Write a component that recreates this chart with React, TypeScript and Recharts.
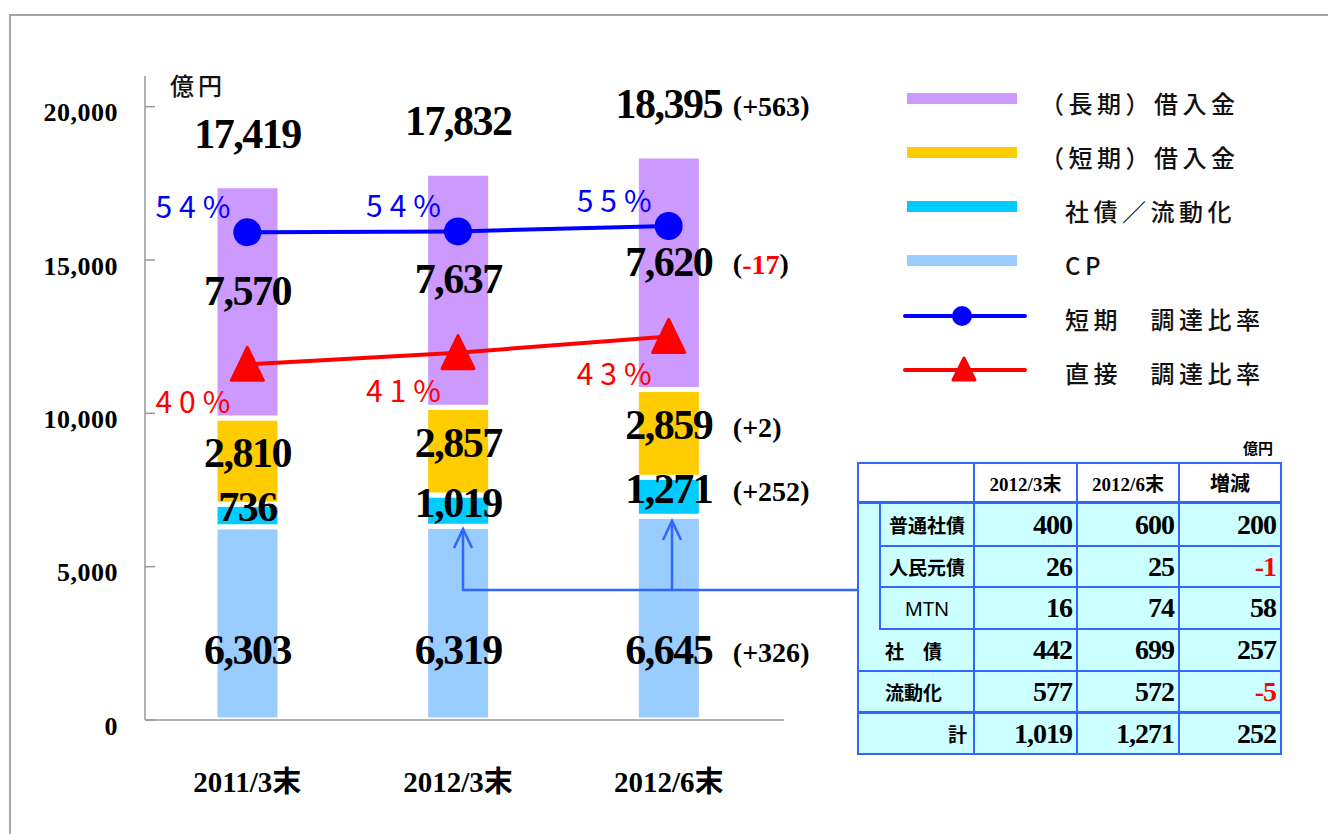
import React from 'react';
import { ComposedChart, Bar, Line, XAxis, YAxis, LabelList } from 'recharts';

const categories = ['2011/3末', '2012/3末', '2012/6末'];
const cpValues = [6303, 6319, 6645];
const bondValues = [736, 1019, 1271];
const shortLoanValues = [2810, 2857, 2859];
const longLoanValues = [7570, 7637, 7620];
const shortRatioValues = [54.3, 54.4, 55.0];
const directRatioValues = [39.6, 40.9, 42.7];
const yTicks = [0, 5000, 10000, 15000, 20000];

const tableHeads = ['2012/3末', '2012/6末', '増減'];
const tableLabels = ['普通社債', '人民元債', 'MTN', '社　債', '流動化', '計'];
const bondsMar2012 = [400, 26, 16, 442, 577, 1019];
const bondsJun2012 = [600, 25, 74, 699, 572, 1271];
const bondsDiff = [200, -1, 58, 257, -5, 252];

const data = categories.map((name, i) => ({
  name,
  cp: cpValues[i],
  bond: bondValues[i],
  shortLoan: shortLoanValues[i],
  longLoan: longLoanValues[i],
  total: cpValues[i] + bondValues[i] + shortLoanValues[i] + longLoanValues[i],
  shortRatio: shortRatioValues[i],
  directRatio: directRatioValues[i],
}));
const last = data.length - 1;
const diffOf = (key: string) => (data[last] as any)[key] - (data[last - 1] as any)[key];

const SERIF = '"Liberation Serif", "Times New Roman", "Noto Sans CJK JP", serif';
const GOTHIC = '"Noto Sans CJK JP", "Noto Sans", sans-serif';
const BLUE = '#0000ff';
const RED = '#ff0000';
const ARROW = '#3366ff';
const fmt = (v: number) => v.toLocaleString('en-US');

const legendItems = [
  { label: '（長期）借入金', color: '#cc99ff', kind: 'bar', dx: 0 },
  { label: '（短期）借入金', color: '#ffcc00', kind: 'bar', dx: 0 },
  { label: '社債／流動化', color: '#00ccff', kind: 'bar', dx: 25 },
  { label: 'CP', color: '#99ccff', kind: 'bar', dx: 25 },
  { label: '短期　調達比率', color: BLUE, kind: 'circle', dx: 25 },
  { label: '直接　調達比率', color: RED, kind: 'triangle', dx: 25 },
];

function box(props: any) {
  const vb = props.viewBox && props.viewBox.width !== undefined ? props.viewBox : props;
  const top = Math.min(vb.y, vb.y + vb.height);
  return { x: vb.x, y: top, width: vb.width, height: Math.abs(vb.height) };
}

function ChangeText({ x, y, v }: { x: number; y: number; v: number }) {
  return (
    <text x={x} y={y} dominantBaseline="central" fontFamily={SERIF} fontWeight="bold" fontSize={28} fill="#000">
      (<tspan fill={v < 0 ? RED : '#000'}>{v < 0 ? `-${Math.abs(v)}` : `+${v}`}</tspan>)
    </text>
  );
}

const bigText = { fontFamily: SERIF, fontWeight: 'bold', fontSize: 42, letterSpacing: -1.5, fill: '#000' } as const;

function segmentLabel(key: string, shift: number, fromBottom?: number) {
  return (props: any) => {
    const { x, y, width, height } = box(props);
    const cx = x + width / 2;
    const cy = fromBottom !== undefined ? y + height - fromBottom : y + height / 2 + shift;
    return (
      <g key={`${key}-${props.index}`}>
        <text x={cx} y={cy} textAnchor="middle" dominantBaseline="central" {...bigText}>
          {fmt(Number(props.value))}
        </text>
        {props.index === last && <ChangeText x={cx + 64} y={cy + 2} v={diffOf(key)} />}
      </g>
    );
  };
}

function totalLabel(props: any) {
  const { x, y, width } = box(props);
  const cx = x + width / 2;
  const cy = y - 52;
  return (
    <g key={`total-${props.index}`}>
      <text x={cx} y={cy} textAnchor="middle" dominantBaseline="central" {...bigText}>
        {fmt(Number(props.value))}
      </text>
      {props.index === last && <ChangeText x={cx + 64} y={cy + 2} v={diffOf('total')} />}
    </g>
  );
}

function ratioLabel(color: string, dy: number) {
  return (props: any) => {
    const vb = props.viewBox || props;
    const px = props.x ?? vb.x;
    const py = props.y ?? vb.y;
    return (
      <text key={`r-${color}-${props.index}`} x={px - 10} y={py + dy} textAnchor="end" dominantBaseline="central" fontFamily={GOTHIC} fontSize={30} letterSpacing={7} fill={color}>
        {`${Math.round(Number(props.value))}%`}
      </text>
    );
  };
}

const circleDot = (p: any) => <circle key={`c-${p.index}`} cx={p.cx} cy={p.cy} r={14} fill={BLUE} />;
const triangleDot = (p: any) => (
  <polygon
    key={`t-${p.index}`}
    points={`${p.cx},${p.cy - 17} ${p.cx + 16},${p.cy + 16} ${p.cx - 16},${p.cy + 16}`}
    fill={RED}
    stroke={RED}
    strokeWidth={3}
    strokeLinejoin="round"
  />
);

function YTick(props: any) {
  const { x, y, payload } = props;
  return (
    <g>
      <line x1={x} x2={x + 10} y1={y} y2={y} stroke="#999" strokeWidth={1.5} />
      <text x={x - 27} y={y + 6} textAnchor="end" dominantBaseline="central" fontFamily={SERIF} fontWeight="bold" fontSize={26} letterSpacing={0.5} fill="#000">
        {fmt(payload.value)}
      </text>
    </g>
  );
}

function XTick(props: any) {
  const { x, y, payload } = props;
  return (
    <text x={x} y={y + 62} textAnchor="middle" dominantBaseline="central" fontFamily={SERIF} fontWeight="bold" fontSize={29} fill="#000">
      {payload.value}
    </text>
  );
}

function Legend() {
  return (
    <g>
      {legendItems.map((it, i) => {
        const y = 98 + i * 54;
        return (
          <g key={it.label}>
            {it.kind === 'bar' && <rect x={907} y={y - 5} width={110} height={11} fill={it.color} />}
            {it.kind !== 'bar' && <line x1={905} x2={1025} y1={y + 2} y2={y + 2} stroke={it.color} strokeWidth={4} strokeLinecap="round" />}
            {it.kind === 'circle' && <circle cx={962} cy={y + 2} r={10} fill={it.color} />}
            {it.kind === 'triangle' && (
              <polygon points={`964,${y - 10} 975,${y + 12} 953,${y + 12}`} fill={it.color} stroke={it.color} strokeWidth={3} strokeLinejoin="round" />
            )}
            <text x={1040 + it.dx} y={y + 4} dominantBaseline="central" fontFamily={GOTHIC} fontWeight={500} fontSize={24} letterSpacing={4.5} fill="#111">
              {it.label}
            </text>
          </g>
        );
      })}
    </g>
  );
}

const cell: React.CSSProperties = {
  boxSizing: 'border-box',
  borderRight: `2px solid ${ARROW}`,
  borderBottom: `2px solid ${ARROW}`,
  display: 'flex',
  alignItems: 'center',
  background: '#ccffff',
};
const numCell: React.CSSProperties = {
  ...cell,
  justifyContent: 'flex-end',
  paddingRight: 4,
  fontFamily: SERIF,
  fontWeight: 'bold',
  fontSize: 28,
  letterSpacing: -1,
};
const labelFont: React.CSSProperties = { fontFamily: GOTHIC, fontWeight: 'bold', fontSize: 19 };

function BondTable() {
  const numbers = [bondsMar2012, bondsJun2012, bondsDiff];
  return (
    <div style={{ position: 'absolute', left: 857, top: 445 }}>
      <div style={{ position: 'absolute', left: 386, top: -8, fontFamily: GOTHIC, fontWeight: 'bold', fontSize: 15, whiteSpace: 'nowrap' }}>億円</div>
      <div
        style={{
          position: 'absolute',
          top: 17,
          left: 0,
          width: 425,
          height: 293,
          boxSizing: 'border-box',
          borderLeft: `2px solid ${ARROW}`,
          borderTop: `2px solid ${ARROW}`,
          display: 'grid',
          gridTemplateColumns: '22px 94px 103px 102px 102px',
          gridTemplateRows: '40px 43px 41px 42px 42px 42px 41px',
        }}
      >
        <div style={{ ...cell, background: '#fff', gridColumn: '1 / 3', gridRow: 1, borderBottomWidth: 3 }} />
        {tableHeads.map((h, j) => (
          <div
            key={h}
            style={{
              ...cell,
              background: '#fff',
              gridColumn: j + 3,
              gridRow: 1,
              borderBottomWidth: 3,
              justifyContent: 'center',
              fontFamily: j === 2 ? GOTHIC : SERIF,
              fontWeight: 'bold',
              fontSize: j === 2 ? 20 : 19,
            }}
          >
            {h}
          </div>
        ))}
        <div style={{ ...cell, gridColumn: 1, gridRow: '2 / 5', borderBottom: 'none' }} />
        {tableLabels.map((lab, i) => {
          const row = i + 2;
          let style: React.CSSProperties;
          if (i < 3) {
            style = { ...cell, ...labelFont, gridColumn: 2, gridRow: row, justifyContent: 'center' };
            if (lab === 'MTN') style = { ...style, fontFamily: '"Noto Sans", sans-serif', fontWeight: 'normal', fontSize: 20 };
          } else if (i < 5) {
            style = { ...cell, ...labelFont, gridColumn: '1 / 3', gridRow: row, paddingLeft: 26 };
          } else {
            style = { ...cell, ...labelFont, gridColumn: '1 / 3', gridRow: row, justifyContent: 'flex-end', paddingRight: 6 };
          }
          if (i === 4) style = { ...style, borderBottomWidth: 3 };
          return (
            <React.Fragment key={lab}>
              <div style={style}>{lab}</div>
              {numbers.map((col, j) => (
                <div
                  key={j}
                  style={{
                    ...numCell,
                    gridColumn: j + 3,
                    gridRow: row,
                    color: col[i] < 0 ? RED : '#000',
                    borderBottomWidth: i === 4 ? 3 : 2,
                  }}
                >
                  {fmt(col[i])}
                </div>
              ))}
            </React.Fragment>
          );
        })}
      </div>
    </div>
  );
}

export default function App() {
  return (
    <div style={{ position: 'absolute', left: 0, top: 0, width: 1328, height: 834, background: '#fff', overflow: 'hidden' }}>
      <div style={{ position: 'absolute', left: 9, top: 14, width: 1330, height: 830, borderTop: '2px solid #a6a6a6', borderLeft: '2px solid #a6a6a6' }} />
      <div style={{ position: 'absolute', left: 0, top: 0 }}>
        <ComposedChart width={1328} height={834} data={data} margin={{ top: 76, right: 544, bottom: 54, left: 0 }}>
          <XAxis
            dataKey="name"
            axisLine={{ stroke: '#999', strokeWidth: 1.5 }}
            tickLine={false}
            tickSize={0}
            tickMargin={0}
            tick={<XTick />}
            height={60}
            padding={{ left: -3, right: 10 }}
          />
          <YAxis
            yAxisId="left"
            domain={[0, 21000]}
            ticks={yTicks}
            width={145}
            axisLine={{ stroke: '#999', strokeWidth: 1.5 }}
            tickLine={false}
            tickSize={0}
            tickMargin={0}
            tick={<YTick />}
            interval={0}
          />
          <YAxis yAxisId="right" orientation="right" domain={[0, 71.7]} hide width={0} />
          <Bar yAxisId="left" dataKey="cp" stackId="a" fill="#99ccff" stroke="#fff" strokeWidth={5} barSize={65} isAnimationActive={false}>
            <LabelList dataKey="cp" content={segmentLabel('cp', 0, 70)} />
          </Bar>
          <Bar yAxisId="left" dataKey="bond" stackId="a" fill="#00ccff" stroke="#fff" strokeWidth={5} barSize={65} isAnimationActive={false}>
            <LabelList dataKey="bond" content={segmentLabel('bond', -8)} />
          </Bar>
          <Bar yAxisId="left" dataKey="shortLoan" stackId="a" fill="#ffcc00" stroke="#fff" strokeWidth={5} barSize={65} isAnimationActive={false}>
            <LabelList dataKey="shortLoan" content={segmentLabel('shortLoan', -8)} />
          </Bar>
          <Bar yAxisId="left" dataKey="longLoan" stackId="a" fill="#cc99ff" stroke="#fff" strokeWidth={5} barSize={65} isAnimationActive={false}>
            <LabelList dataKey="longLoan" content={segmentLabel('longLoan', -11)} />
            <LabelList dataKey="total" content={totalLabel} />
          </Bar>
          <Line yAxisId="right" type="linear" dataKey="shortRatio" stroke={BLUE} strokeWidth={4} dot={circleDot} activeDot={false} isAnimationActive={false}>
            <LabelList dataKey="shortRatio" content={ratioLabel(BLUE, -27)} />
          </Line>
          <Line yAxisId="right" type="linear" dataKey="directRatio" stroke={RED} strokeWidth={4} dot={triangleDot} activeDot={false} isAnimationActive={false}>
            <LabelList dataKey="directRatio" content={ratioLabel(RED, 36)} />
          </Line>
        </ComposedChart>
      </div>
      <svg width={1328} height={834} style={{ position: 'absolute', left: 0, top: 0, pointerEvents: 'none' }}>
        <text x={170} y={84} dominantBaseline="central" fontFamily={GOTHIC} fontWeight={500} fontSize={24} letterSpacing={4} fill="#111">億円</text>
        <Legend />
        <g stroke={ARROW} strokeWidth={2.5} fill="none">
          <polyline points="857,590 463,590 463,531" />
          <line x1={672} y1={590} x2={672} y2={522} />
          <polyline points="454,548 463,529 472,548" />
          <polyline points="663,540 672,521 681,540" />
        </g>
      </svg>
      <BondTable />
    </div>
  );
}
